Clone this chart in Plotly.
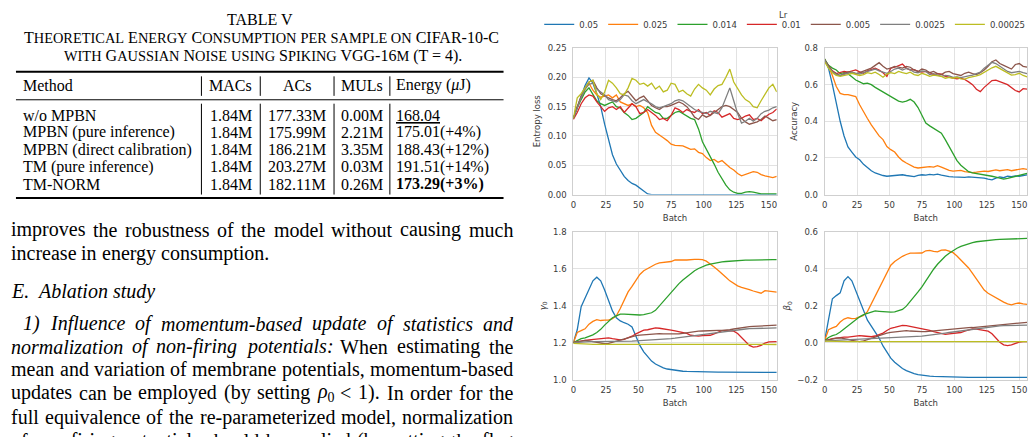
import plotly.graph_objects as go

W, H = 1033, 437
def X(p): return p / W
def Y(p): return 1 - p / H

# ---------------- chart data ----------------
BATCH = list(range(0, 157, 3))
LR_LABELS = ["0.05", "0.025", "0.014", "0.01", "0.005", "0.0025", "0.00025"]
COLORS = ["#1f77b4", "#ff7f0e", "#2ca02c", "#d62728", "#8c564b", "#7f7f7f", "#bcbd22"]

ENT_005 = [0.130,0.150,0.168,0.186,0.199,0.190,0.172,0.150,0.120,0.094,
           0.068,0.052,0.041,0.031,0.024,0.019,0.016,0.011,0.006,0.001,
           0.000,0.000,0.000,0.000,0.000,0.000,0.000,0.000,0.000,0.000,
           0.000,0.000,0.000,0.000,0.000,0.000,0.000,0.000,0.000,0.000,
           0.000,0.000,0.000,0.000,0.000,0.000,0.000,0.000,0.000,0.000,
           0.000,0.000,0.000]
ENT_0025 = [0.130,0.150,0.165,0.180,0.190,0.178,0.170,0.166,0.168,0.170,
            0.165,0.170,0.158,0.155,0.152,0.155,0.150,0.152,0.148,0.140,
            0.118,0.106,0.102,0.097,0.092,0.086,0.084,0.084,0.083,0.080,
            0.077,0.078,0.072,0.070,0.063,0.058,0.060,0.055,0.058,0.052,
            0.046,0.042,0.036,0.032,0.034,0.036,0.039,0.038,0.034,0.032,
            0.030,0.029,0.031]
ENT_0014 = [0.130,0.148,0.162,0.175,0.182,0.170,0.160,0.155,0.152,0.155,
            0.158,0.150,0.148,0.140,0.135,0.128,0.130,0.135,0.140,0.150,
            0.145,0.140,0.138,0.130,0.130,0.135,0.140,0.142,0.138,0.135,
            0.130,0.128,0.112,0.090,0.078,0.065,0.052,0.038,0.026,0.016,
            0.008,0.004,0.002,0.002,0.004,0.005,0.004,0.002,0.001,0.001,
            0.001,0.001,0.001]
ENT_001 = [0.128,0.140,0.155,0.165,0.170,0.168,0.158,0.150,0.142,0.148,
           0.150,0.145,0.150,0.140,0.148,0.155,0.150,0.138,0.140,0.145,
           0.140,0.135,0.128,0.130,0.126,0.135,0.148,0.145,0.140,0.145,
           0.142,0.140,0.145,0.138,0.140,0.135,0.143,0.140,0.132,0.135,
           0.138,0.130,0.128,0.130,0.134,0.136,0.128,0.130,0.126,0.132,
           0.137,0.140,0.146]
ENT_0005 = [0.130,0.150,0.168,0.182,0.192,0.195,0.182,0.172,0.168,0.165,
            0.162,0.160,0.165,0.172,0.176,0.168,0.160,0.165,0.168,0.160,
            0.152,0.148,0.145,0.150,0.150,0.152,0.155,0.158,0.155,0.150,
            0.142,0.132,0.128,0.136,0.132,0.135,0.140,0.145,0.150,0.152,
            0.150,0.145,0.140,0.130,0.124,0.120,0.122,0.124,0.128,0.134,
            0.130,0.126,0.128]
ENT_00025 = [0.130,0.148,0.165,0.180,0.188,0.190,0.180,0.175,0.170,0.162,
             0.160,0.158,0.162,0.170,0.168,0.160,0.155,0.158,0.162,0.158,
             0.155,0.150,0.148,0.150,0.152,0.155,0.160,0.162,0.160,0.155,
             0.150,0.145,0.142,0.140,0.138,0.142,0.140,0.138,0.148,0.165,
             0.182,0.160,0.138,0.122,0.125,0.130,0.125,0.130,0.138,0.142,
             0.144,0.148,0.150]
ENT_000025 = [0.130,0.165,0.172,0.182,0.192,0.195,0.172,0.162,0.175,0.195,
              0.190,0.182,0.172,0.170,0.182,0.198,0.195,0.188,0.190,0.185,
              0.190,0.180,0.185,0.175,0.178,0.190,0.188,0.175,0.178,0.172,
              0.168,0.180,0.188,0.182,0.178,0.170,0.180,0.186,0.188,0.200,
              0.214,0.192,0.180,0.170,0.162,0.158,0.150,0.148,0.160,0.170,
              0.182,0.188,0.175]

ACC_005 = [0.740,0.690,0.600,0.500,0.400,0.320,0.260,0.232,0.205,0.190,
           0.165,0.148,0.130,0.118,0.110,0.104,0.100,0.102,0.100,0.105,
           0.108,0.104,0.100,0.098,0.105,0.108,0.106,0.110,0.108,0.112,
           0.106,0.100,0.098,0.096,0.095,0.092,0.094,0.096,0.094,0.095,
           0.092,0.090,0.084,0.080,0.090,0.096,0.092,0.100,0.098,0.102,
           0.100,0.104,0.108]
ACC_0025 = [0.740,0.700,0.650,0.590,0.552,0.546,0.545,0.542,0.535,0.490,
            0.450,0.415,0.380,0.352,0.320,0.300,0.262,0.245,0.232,0.205,
            0.185,0.172,0.160,0.150,0.145,0.148,0.150,0.152,0.150,0.158,
            0.150,0.140,0.132,0.128,0.130,0.132,0.125,0.122,0.120,0.122,
            0.125,0.128,0.126,0.132,0.135,0.130,0.132,0.136,0.130,0.134,
            0.140,0.142,0.138]
ACC_0014 = [0.740,0.705,0.690,0.680,0.660,0.665,0.660,0.640,0.625,0.615,
            0.605,0.608,0.600,0.585,0.572,0.560,0.545,0.535,0.520,0.510,
            0.505,0.510,0.520,0.505,0.475,0.430,0.390,0.375,0.362,0.348,
            0.335,0.300,0.260,0.222,0.185,0.160,0.140,0.125,0.118,0.115,
            0.112,0.108,0.105,0.100,0.095,0.088,0.084,0.088,0.094,0.098,
            0.102,0.108,0.115]
ACC_001 = [0.730,0.700,0.675,0.660,0.665,0.672,0.668,0.675,0.680,0.670,
           0.662,0.675,0.682,0.690,0.680,0.665,0.645,0.690,0.695,0.705,
           0.712,0.690,0.680,0.682,0.672,0.668,0.672,0.665,0.655,0.660,
           0.658,0.645,0.640,0.638,0.632,0.635,0.628,0.615,0.600,0.575,
           0.562,0.585,0.605,0.622,0.625,0.615,0.608,0.600,0.585,0.568,
           0.560,0.578,0.575]
ACC_0005 = [0.735,0.700,0.672,0.660,0.650,0.660,0.670,0.668,0.660,0.665,
            0.672,0.680,0.690,0.705,0.720,0.700,0.685,0.690,0.700,0.695,
            0.690,0.700,0.695,0.680,0.672,0.685,0.680,0.665,0.672,0.660,
            0.655,0.668,0.672,0.660,0.655,0.650,0.662,0.668,0.660,0.655,
            0.665,0.680,0.700,0.725,0.735,0.715,0.705,0.695,0.685,0.710,
            0.715,0.700,0.695]
ACC_00025 = [0.735,0.695,0.670,0.655,0.650,0.655,0.662,0.668,0.662,0.658,
             0.665,0.672,0.678,0.685,0.675,0.668,0.662,0.672,0.685,0.690,
             0.680,0.688,0.682,0.668,0.665,0.675,0.672,0.655,0.660,0.652,
             0.645,0.650,0.648,0.640,0.642,0.638,0.645,0.648,0.652,0.660,
             0.668,0.690,0.705,0.722,0.715,0.700,0.688,0.672,0.665,0.668,
             0.672,0.665,0.660]
ACC_000025 = [0.725,0.690,0.665,0.650,0.645,0.648,0.655,0.662,0.658,0.650,
              0.655,0.665,0.660,0.668,0.655,0.640,0.658,0.665,0.660,0.672,
              0.665,0.660,0.668,0.655,0.650,0.662,0.655,0.645,0.652,0.648,
              0.645,0.635,0.640,0.635,0.640,0.632,0.630,0.638,0.642,0.648,
              0.655,0.668,0.680,0.692,0.700,0.688,0.672,0.660,0.652,0.655,
              0.662,0.650,0.642]

GAM_005 = [1.200,1.270,1.395,1.445,1.485,1.535,1.555,1.535,1.485,1.425,
           1.372,1.335,1.318,1.308,1.300,1.285,1.235,1.185,1.150,1.122,
           1.100,1.084,1.072,1.063,1.057,1.053,1.050,1.047,1.045,1.044,
           1.043,1.042,1.041,1.041,1.040,1.040,1.040,1.040,1.040,1.040,
           1.040,1.040,1.040,1.040,1.040,1.039,1.039,1.039,1.039,1.039,
           1.039,1.039,1.039]
GAM_0025 = [1.200,1.255,1.265,1.275,1.300,1.315,1.325,1.320,1.322,1.322,
            1.330,1.345,1.385,1.430,1.475,1.505,1.535,1.570,1.590,1.602,
            1.615,1.625,1.633,1.636,1.638,1.640,1.648,1.650,1.648,1.648,
            1.652,1.652,1.652,1.650,1.642,1.628,1.610,1.592,1.575,1.555,
            1.535,1.520,1.508,1.500,1.495,1.488,1.480,1.472,1.468,1.482,
            1.478,1.474,1.474]
GAM_0014 = [1.200,1.212,1.222,1.226,1.232,1.242,1.255,1.272,1.295,1.318,
            1.335,1.345,1.355,1.355,1.353,1.352,1.350,1.350,1.352,1.358,
            1.362,1.375,1.400,1.425,1.448,1.470,1.495,1.520,1.540,1.558,
            1.575,1.590,1.602,1.612,1.620,1.626,1.631,1.635,1.638,1.640,
            1.642,1.644,1.645,1.646,1.647,1.647,1.648,1.648,1.649,1.649,
            1.649,1.650,1.650]
GAM_001 = [1.200,1.205,1.210,1.212,1.215,1.218,1.218,1.220,1.225,1.226,
           1.222,1.218,1.215,1.218,1.225,1.235,1.248,1.260,1.268,1.270,
           1.275,1.280,1.278,1.276,1.272,1.268,1.264,1.260,1.256,1.250,
           1.240,1.236,1.235,1.238,1.240,1.240,1.248,1.258,1.265,1.265,
           1.264,1.262,1.250,1.230,1.205,1.185,1.176,1.178,1.185,1.198,
           1.204,1.206,1.205]
GAM_0005 = [1.200,1.205,1.210,1.212,1.210,1.206,1.200,1.196,1.194,1.196,
            1.202,1.208,1.215,1.222,1.228,1.234,1.238,1.241,1.243,1.245,
            1.248,1.250,1.249,1.248,1.247,1.246,1.246,1.247,1.250,1.254,
            1.258,1.260,1.262,1.263,1.265,1.266,1.266,1.267,1.267,1.268,
            1.270,1.274,1.278,1.282,1.285,1.287,1.288,1.289,1.290,1.292,
            1.293,1.294,1.295]
GAM_00025 = [1.200,1.202,1.204,1.205,1.205,1.205,1.205,1.205,1.205,1.205,
             1.205,1.205,1.206,1.206,1.207,1.208,1.210,1.211,1.212,1.214,
             1.215,1.217,1.218,1.219,1.220,1.222,1.224,1.226,1.229,1.232,
             1.235,1.238,1.241,1.244,1.247,1.250,1.253,1.256,1.259,1.262,
             1.265,1.268,1.270,1.272,1.274,1.276,1.277,1.278,1.278,1.279,
             1.279,1.280,1.280]
GAM_000025 = [1.196,1.194,1.193,1.192,1.192,1.191,1.191,1.191,1.191,1.191,
              1.190,1.190,1.190,1.190,1.190,1.190,1.190,1.190,1.190,1.190,
              1.190,1.190,1.190,1.190,1.190,1.190,1.190,1.190,1.190,1.190,
              1.190,1.190,1.190,1.190,1.190,1.190,1.190,1.190,1.190,1.190,
              1.190,1.190,1.190,1.190,1.190,1.190,1.190,1.190,1.190,1.190,
              1.190,1.190,1.190]

BET_005 = [0.010,0.135,0.238,0.255,0.270,0.335,0.358,0.335,0.282,0.226,
           0.168,0.122,0.090,0.060,0.025,-0.018,-0.055,-0.084,-0.106,-0.124,
           -0.140,-0.152,-0.161,-0.168,-0.173,-0.177,-0.180,-0.182,-0.183,-0.184,
           -0.185,-0.186,-0.186,-0.187,-0.187,-0.187,-0.188,-0.188,-0.188,-0.188,
           -0.188,-0.188,-0.188,-0.188,-0.188,-0.188,-0.188,-0.188,-0.188,-0.188,
           -0.188,-0.188,-0.188]
BET_0025 = [0.010,0.070,0.080,0.088,0.112,0.128,0.135,0.130,0.132,0.138,
            0.148,0.168,0.210,0.255,0.298,0.340,0.385,0.420,0.440,0.455,
            0.468,0.478,0.485,0.485,0.484,0.486,0.498,0.500,0.495,0.492,
            0.502,0.503,0.496,0.488,0.470,0.450,0.428,0.405,0.375,0.345,
            0.312,0.285,0.268,0.255,0.245,0.232,0.220,0.210,0.205,0.212,
            0.215,0.210,0.208]
BET_0014 = [0.010,0.028,0.038,0.044,0.058,0.075,0.092,0.108,0.125,0.140,
            0.152,0.160,0.168,0.172,0.170,0.168,0.166,0.165,0.167,0.172,
            0.180,0.198,0.222,0.250,0.275,0.302,0.335,0.368,0.398,0.425,
            0.448,0.468,0.485,0.500,0.512,0.522,0.530,0.537,0.542,0.547,
            0.550,0.553,0.555,0.557,0.559,0.560,0.561,0.562,0.563,0.563,
            0.564,0.564,0.565]
BET_001 = [0.010,0.018,0.022,0.025,0.028,0.030,0.030,0.033,0.036,0.038,
           0.036,0.033,0.032,0.036,0.042,0.052,0.066,0.078,0.083,0.088,
           0.094,0.092,0.088,0.085,0.082,0.078,0.072,0.066,0.060,0.054,
           0.048,0.045,0.048,0.050,0.050,0.055,0.063,0.070,0.074,0.073,
           0.070,0.067,0.062,0.048,0.025,0.002,-0.012,-0.016,-0.012,-0.003,
           0.003,0.005,0.005]
BET_0005 = [0.010,0.016,0.021,0.025,0.026,0.024,0.018,0.012,0.007,0.006,
            0.009,0.015,0.022,0.030,0.038,0.046,0.052,0.056,0.059,0.062,
            0.064,0.065,0.063,0.061,0.060,0.060,0.060,0.062,0.065,0.068,
            0.071,0.073,0.075,0.077,0.078,0.079,0.080,0.081,0.082,0.084,
            0.087,0.090,0.093,0.096,0.098,0.100,0.102,0.104,0.105,0.107,
            0.108,0.109,0.110]
BET_00025 = [0.010,0.011,0.012,0.013,0.014,0.015,0.016,0.017,0.017,0.018,
             0.019,0.019,0.020,0.021,0.021,0.022,0.023,0.024,0.025,0.026,
             0.027,0.028,0.030,0.031,0.033,0.035,0.038,0.040,0.043,0.046,
             0.049,0.052,0.055,0.058,0.061,0.064,0.067,0.070,0.073,0.076,
             0.079,0.082,0.085,0.087,0.089,0.091,0.092,0.093,0.094,0.095,
             0.095,0.095,0.095]
BET_000025 = [0.008,0.007,0.006,0.006,0.005,0.005,0.005,0.005,0.005,0.005,
              0.005,0.005,0.005,0.005,0.005,0.005,0.005,0.005,0.005,0.005,
              0.005,0.005,0.005,0.005,0.005,0.005,0.005,0.005,0.005,0.005,
              0.005,0.005,0.005,0.005,0.005,0.005,0.005,0.005,0.005,0.005,
              0.005,0.005,0.005,0.005,0.005,0.005,0.005,0.005,0.005,0.005,
              0.005,0.005,0.005]

ENTROPY = [ENT_005, ENT_0025, ENT_0014, ENT_001, ENT_0005, ENT_00025, ENT_000025]
ACCURACY = [ACC_005, ACC_0025, ACC_0014, ACC_001, ACC_0005, ACC_00025, ACC_000025]
GAMMA0 = [GAM_005, GAM_0025, GAM_0014, GAM_001, GAM_0005, GAM_00025, GAM_000025]
BETA0 = [BET_005, BET_0025, BET_0014, BET_001, BET_0005, BET_00025, BET_000025]

# ---------------- table data ----------------
TABLE_HEAD = ["Method", "MACs", "ACs", "MULs", "Energy (<i>μ</i>J)"]
METHODS = ["w/o MPBN", "MPBN (pure inference)", "MPBN (direct calibration)",
           "TM (pure inference)", "TM-NORM"]
MACS = ["1.84M", "1.84M", "1.84M", "1.84M", "1.84M"]
ACS = ["177.33M", "175.99M", "186.21M", "203.27M", "182.11M"]
MULS = ["0.00M", "2.21M", "3.35M", "0.03M", "0.26M"]
ENERGY = ["<u>168.04</u>", "175.01(+4%)", "188.43(+12%)", "191.51(+14%)", "<b>173.29(+3%)</b>"]

fig = go.Figure()

panels = [(ENTROPY, "x", "y"), (ACCURACY, "x2", "y2"), (GAMMA0, "x3", "y3"), (BETA0, "x4", "y4")]
for pi, (series, xa, ya) in enumerate(panels):
    for i, vals in enumerate(series):
        fig.add_trace(go.Scatter(
            x=BATCH, y=vals, mode="lines", name=LR_LABELS[i],
            line=dict(color=COLORS[i], width=1.3),
            xaxis=xa, yaxis=ya, legendgroup=LR_LABELS[i],
            showlegend=(pi == 0), hoverinfo="skip"))

TICKFONT = dict(family="DejaVu Sans", size=8.5, color="#3a3a3a")
GRID = "#e2e2e2"
SPINE = "#cfcfcf"

def xaxis_cfg(x0, x1, anchor):
    return dict(domain=[X(x0), X(x1)], anchor=anchor, range=[0, 156],
                tickvals=[0, 25, 50, 75, 100, 125, 150], ticks="",
                showgrid=True, gridcolor=GRID, gridwidth=1.2, zeroline=False,
                showline=True, linecolor=SPINE, linewidth=1, mirror=True,
                tickfont=TICKFONT, ticklabelstandoff=2,
                title=dict(text="Batch", font=TICKFONT, standoff=6))

def yaxis_cfg(y_top, y_bot, anchor, rng, tv, fmt, title):
    return dict(domain=[Y(y_bot), Y(y_top)], anchor=anchor, range=rng,
                tickvals=tv, tickformat=fmt, ticks="",
                showgrid=True, gridcolor=GRID, gridwidth=1.2, zeroline=False,
                showline=True, linecolor=SPINE, linewidth=1, mirror=True,
                tickfont=TICKFONT, ticklabelstandoff=4,
                title=dict(text=title, font=TICKFONT, standoff=5))

L0, L1 = 572, 776
R0, R1 = 824, 1027
T0, T1 = 44, 194
B0, B1 = 232.3, 383.3

fig.update_layout(
    xaxis=xaxis_cfg(L0, L1, "y"),
    yaxis=yaxis_cfg(T0, T1, "x", [0, 0.25], [0, 0.05, 0.10, 0.15, 0.20, 0.25], ".2f", "Entropy loss"),
    xaxis2=xaxis_cfg(R0, R1, "y2"),
    yaxis2=yaxis_cfg(T0, T1, "x2", [0, 0.8], [0, 0.2, 0.4, 0.6, 0.8], ".1f", "Accuracy"),
    xaxis3=xaxis_cfg(L0, L1, "y3"),
    yaxis3=yaxis_cfg(B0, B1, "x3", [1.0, 1.8], [1.0, 1.2, 1.4, 1.6, 1.8], ".1f", "<i>γ</i><sub>0</sub>"),
    xaxis4=xaxis_cfg(R0, R1, "y4"),
    yaxis4=yaxis_cfg(B0, B1, "x4", [-0.2, 0.6], [-0.2, 0.0, 0.2, 0.4, 0.6], ".1f", "<i>β</i><sub>0</sub>"),
)

# ---------------- text (left column) ----------------
ROMAN = {' ': 250, '!': 333, '(': 333, ')': 333, ',': 250, '-': 333, '.': 250, '/': 278,
         ':': 278, ';': 278, '<': 564, '=': 564, '>': 564, '%': 833, '+': 564,
         'A': 722, 'B': 667, 'C': 667, 'D': 722, 'E': 611, 'F': 556, 'G': 722, 'H': 722,
         'I': 333, 'J': 389, 'K': 722, 'L': 611, 'M': 889, 'N': 722, 'O': 722, 'P': 556,
         'Q': 722, 'R': 667, 'S': 556, 'T': 611, 'U': 722, 'V': 722, 'W': 944, 'X': 722,
         'Y': 722, 'Z': 611,
         'a': 444, 'b': 500, 'c': 444, 'd': 500, 'e': 444, 'f': 333, 'g': 500, 'h': 500,
         'i': 278, 'j': 278, 'k': 500, 'l': 278, 'm': 778, 'n': 500, 'o': 500, 'p': 500,
         'q': 500, 'r': 333, 's': 389, 't': 278, 'u': 500, 'v': 500, 'w': 722, 'x': 500,
         'y': 500, 'z': 444}
ITALIC = dict(ROMAN)
ITALIC.update({':': 333, 'A': 611, 'B': 611, 'F': 611, 'K': 667, 'L': 556, 'M': 833,
               'N': 667, 'P': 611, 'R': 611, 'S': 500, 'T': 556, 'V': 611, 'W': 833,
               'a': 500, 'f': 278, 'k': 444, 'm': 722, 'r': 389, 'v': 444, 'w': 667,
               'x': 444, 'y': 444, 'z': 389})

SERIF = "Liberation Serif"
BODY = 20
annotations = []

def note(x, y, text, size, xanchor="left", family=SERIF, color="black"):
    annotations.append(dict(x=X(x), y=Y(y), xref="paper", yref="paper", text=text,
                            showarrow=False, xanchor=xanchor, yanchor="middle",
                            borderpad=0, font=dict(family=family, size=size, color=color)))

def word_width(w, style, size):
    if style == "m":
        return 0.85 * size
    tbl = ITALIC if style == "i" else ROMAN
    return sum(tbl.get(c, 500) for c in w) * size / 1000.0

def body_line(y, segments, left, right, justify):
    words = []
    for text, style in segments:
        if style == "m":
            words.append(("<i>ρ</i><sub>0</sub>", text, style))
            continue
        for w in text.split(" "):
            h = w.replace("<", "&lt;")
            words.append(("<i>%s</i>" % h if style == "i" else h, w, style))
    widths = [word_width(p, s, BODY) for _, p, s in words]
    if justify and len(words) > 1:
        gap = (right - left - sum(widths)) / (len(words) - 1)
    else:
        gap = 0.25 * BODY
    x = left
    for (h, p, s), w in zip(words, widths):
        note(x, y, h, BODY)
        x += w + gap

COL_L, COL_R = 7, 510.5
body_line(230, [("improves the robustness of the model without causing much", "r")], COL_L, COL_R, True)
body_line(254, [("increase in energy consumption.", "r")], COL_L, COL_R, False)
note(COL_L, 293, "<i>E.</i>", BODY)
note(COL_L + word_width("E.", "i", BODY) + 9, 293, "<i>Ablation study</i>", BODY)
body_line(326, [("1) Influence of momentum-based update of statistics and", "i")], 19, COL_R, True)
body_line(350, [("normalization of non-firing potentials:", "i"), ("When estimating the", "r")], COL_L, COL_R, True)
body_line(373, [("mean and variation of membrane potentials, momentum-based", "r")], COL_L, COL_R, True)
body_line(397, [("updates can be employed (by setting", "r"), ("rho0", "m"), ("< 1). In order for the", "r")], COL_L, COL_R, True)
body_line(422, [("full equivalence of the re-parameterized model, normalization", "r")], COL_L, COL_R, True)
body_line(446, [("of non-firing potentials should be applied (by setting the flag", "r")], COL_L, COL_R, True)

# caption
CAP = 16
SC = "<span style='font-size:14.4px'>%s</span>"
note(258, 15, "TABLE V", CAP, "center")
note(259, 33, "T" + SC % "HEORETICAL" + " E" + SC % "NERGY" + " C" + SC % "ONSUMPTION" + " "
     + SC % "PER SAMPLE ON" + " CIFAR-10-C", CAP, "center")
note(261, 52, SC % "WITH" + " G" + SC % "AUSSIAN" + " N" + SC % "OISE" + " " + SC % "USING"
     + " S" + SC % "PIKING" + " VGG-16" + SC % "M" + " (T = 4).", CAP, "center")

# table
TAB = 16
HEAD_Y = 82
ROW_Y = [112.7, 130.3, 148.0, 165.7, 183.3]
note(19, HEAD_Y, TABLE_HEAD[0], TAB)
note(228.5, HEAD_Y, TABLE_HEAD[1], TAB, "center")
note(295, HEAD_Y, TABLE_HEAD[2], TAB, "center")
note(360, HEAD_Y, TABLE_HEAD[3], TAB, "center")
note(393, HEAD_Y, TABLE_HEAD[4], TAB)
for r in range(len(METHODS)):
    note(19, ROW_Y[r], METHODS[r], TAB)
    note(228.5, ROW_Y[r], MACS[r], TAB, "center")
    note(295, ROW_Y[r], ACS[r], TAB, "center")
    note(360, ROW_Y[r], MULS[r], TAB, "center")
    note(393, ROW_Y[r], ENERGY[r], TAB)

# legend title
note(783, 10, "Lr", 8.5, "center", family="DejaVu Sans", color="#3a3a3a")

shapes = []
def hline(y, x0, x1, w):
    shapes.append(dict(type="line", xref="paper", yref="paper", x0=X(x0), x1=X(x1),
                       y0=Y(y), y1=Y(y), line=dict(color="black", width=w)))
def vline(x, y0, y1, w=1):
    shapes.append(dict(type="line", xref="paper", yref="paper", x0=X(x), x1=X(x),
                       y0=Y(y0), y1=Y(y1), line=dict(color="black", width=w)))
hline(68.3, 13, 502, 1.8)
hline(97, 13, 502, 1.0)
hline(197.5, 13, 502, 1.8)
for vx in [199, 258, 332, 388]:
    vline(vx, 73, 93)
    vline(vx, 101, 194)

fig.update_layout(
    width=W, height=H, margin=dict(l=0, r=0, t=0, b=0),
    paper_bgcolor="white", plot_bgcolor="white",
    annotations=annotations, shapes=shapes,
    legend=dict(orientation="h", x=X(784), xanchor="center", y=Y(5), yanchor="top",
                font=TICKFONT, bgcolor="rgba(0,0,0,0)", itemwidth=30),
    hovermode=False,
)

fig.write_html("out.html", config={"displayModeBar": False})
